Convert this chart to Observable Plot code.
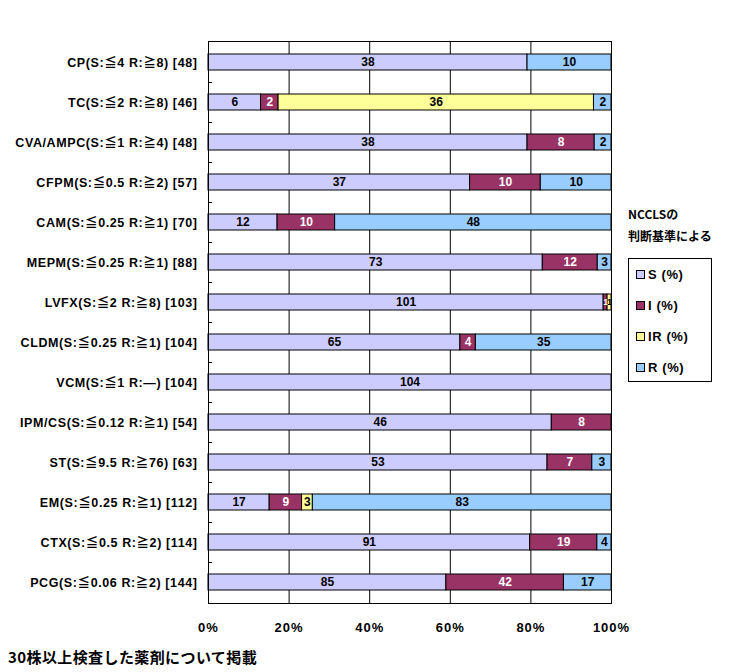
<!DOCTYPE html>
<html><head><meta charset="utf-8">
<script src="https://cdn.jsdelivr.net/npm/d3@7"></script>
<script src="https://cdn.jsdelivr.net/npm/@observablehq/plot@0.6"></script>
<style>
body{margin:0;background:#fff;}
#wrap{position:relative;width:738px;height:672px;font-family:"Liberation Sans","Noto Sans CJK JP",sans-serif;}
#legend{position:absolute;left:628px;top:258px;width:82px;height:122px;border:1px solid #000;font-family:"Liberation Sans","Noto Sans CJK JP",sans-serif;font-size:13px;font-weight:bold;letter-spacing:0.6px;}
.item{position:absolute;left:7px;height:14px;line-height:14px;}
.sw{display:inline-block;width:7px;height:7px;border:1px solid #000;margin-right:3px;vertical-align:0px;}
.lt{position:absolute;left:628px;font-family:"Noto Sans CJK JP",sans-serif;font-size:12px;font-weight:bold;}
#cap{position:absolute;left:8px;top:646px;font-family:"Noto Sans CJK JP",sans-serif;font-size:15px;font-weight:bold;letter-spacing:0.4px;}
</style></head>
<body><div id="wrap"></div>
<script>
const categories = ["CP(S:≦4 R:≧8) [48]","TC(S:≦2 R:≧8) [46]","CVA/AMPC(S:≦1 R:≧4) [48]","CFPM(S:≦0.5 R:≧2) [57]","CAM(S:≦0.25 R:≧1) [70]","MEPM(S:≦0.25 R:≧1) [88]","LVFX(S:≦2 R:≧8) [103]","CLDM(S:≦0.25 R:≧1) [104]","VCM(S:≦1 R:—) [104]","IPM/CS(S:≦0.12 R:≧1) [54]","ST(S:≦9.5 R:≧76) [63]","EM(S:≦0.25 R:≧1) [112]","CTX(S:≦0.5 R:≧2) [114]","PCG(S:≦0.06 R:≧2) [144]"];
const seriesNames = ["S (%)","I (%)","IR (%)","R (%)"];
const seriesColors = ["#CCCCFF","#993366","#FFFF99","#99CCFF"];
const S  = [38,6,38,37,12,73,101,65,104,46,53,17,91,85];
const I  = [0,2,8,10,10,12,1,4,0,8,7,9,19,42];
const IR = [0,36,0,0,0,0,1,0,0,0,0,3,0,0];
const R  = [10,2,2,10,48,3,0,35,0,0,3,83,4,17];
const xTicks = [0,0.2,0.4,0.6,0.8,1];

const cols = [S,I,IR,R];
const data = [];
categories.forEach((c,i)=>seriesNames.forEach((s,j)=>{ if(cols[j][i]>0) data.push({cat:c,series:s,value:cols[j][i]}); }));

const stackOpts = {x:"value", y:"cat", z:"series", order: seriesNames, offset:"normalize"};

const chart = Plot.plot({
  width:738, height:672,
  marginLeft:208, marginRight:127, marginTop:41, marginBottom:69,
  style:{fontFamily:'"Liberation Sans","Noto Sans CJK JP",sans-serif', background:"#fff"},
  x:{domain:[0,1], ticks:xTicks},
  y:{domain:categories, paddingInner:0.6, paddingOuter:0.3},
  color:{domain:seriesNames, range:seriesColors},
  marks:[
    Plot.ruleX(xTicks.slice(1,-1), {stroke:"#000", strokeWidth:1, strokeOpacity:1}),
    Plot.ruleY(categories.slice(0,-1), {y:d=>d, x1:0, x2:0.01, dy:20, stroke:"#000"}),
    Plot.barX(data, Plot.stackX({...stackOpts, fill:"series", stroke:"#000", strokeWidth:1})),
    Plot.textX(data, Plot.stackX({...stackOpts, text:"value", fill:d=>d.series==="I (%)"?"#fff":"#000", fontWeight:"bold", fontSize:d=>d.value<2?9:12})),
    Plot.frame({stroke:"#000", strokeWidth:1}),
    Plot.axisX(xTicks, {tickSize:0, tickPadding:19, fontSize:13, fontWeight:"bold", label:null, fill:"#000", tickFormat:d3.format(".0%")}),
    Plot.axisY({tickSize:0, tickPadding:11, fontSize:12.5, fontWeight:"bold", label:null, fill:"#000", letterSpacing:"0.5px"})
  ]
});
const wrap = document.getElementById("wrap");
wrap.appendChild(chart);
d3.select(chart).selectAll('g[aria-label="y-axis tick label"] text').style("letter-spacing","0.6px");
d3.select(chart).selectAll('g[aria-label="x-axis tick label"] text').style("letter-spacing","1px");

const t1 = document.createElement("div"); t1.className="lt"; t1.style.top="205px"; t1.textContent="NCCLSの"; wrap.appendChild(t1);
const t2 = document.createElement("div"); t2.className="lt"; t2.style.top="227px"; t2.textContent="判断基準による"; wrap.appendChild(t2);
const lg = document.createElement("div"); lg.id="legend"; wrap.appendChild(lg);
seriesNames.forEach((s,j)=>{
  const it=document.createElement("div"); it.className="item"; it.style.top=(9+j*31)+"px";
  it.innerHTML='<span class="sw" style="background:'+seriesColors[j]+'"></span>'+s;
  lg.appendChild(it);
});
const cap=document.createElement("div"); cap.id="cap"; cap.textContent="30株以上検査した薬剤について掲載"; wrap.appendChild(cap);
</script></body></html>
